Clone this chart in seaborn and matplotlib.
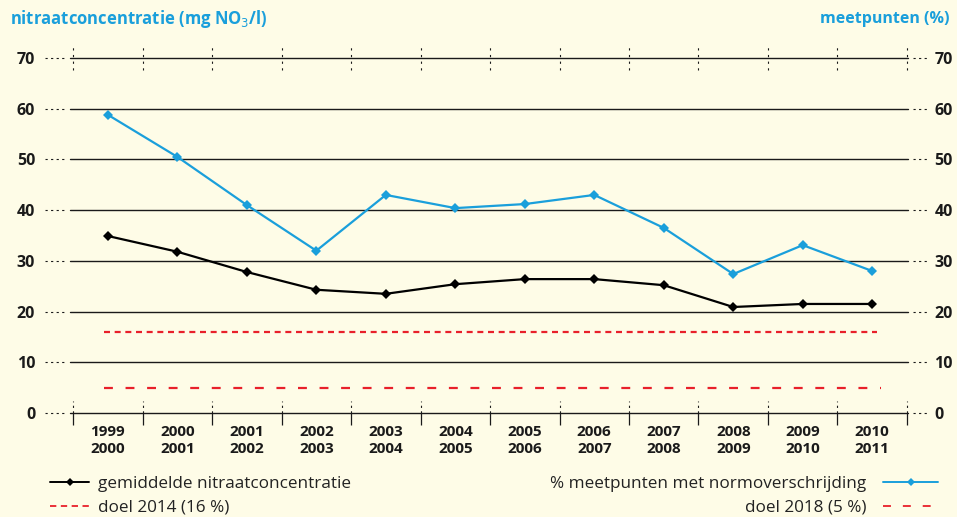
import numpy as np
import pandas as pd
import seaborn as sns
from matplotlib import pyplot as plt
from matplotlib.lines import Line2D

# data
PERIODS = ['1999\n2000', '2000\n2001', '2001\n2002', '2002\n2003', '2003\n2004', '2004\n2005',
           '2005\n2006', '2006\n2007', '2007\n2008', '2008\n2009', '2009\n2010', '2010\n2011']
NITRAAT = [34.9, 31.8, 27.8, 24.3, 23.5, 25.4, 26.4, 26.4, 25.2, 20.9, 21.5, 21.5]
MEETPUNTEN = [58.8, 50.5, 41.0, 32.0, 43.0, 40.4, 41.2, 43.0, 36.5, 27.4, 33.1, 28.0]
DOEL_2014 = 16
DOEL_2018 = 5
Y_TICKS = [0, 10, 20, 30, 40, 50, 60, 70]

BG = '#fefce7'
BLUE = '#1a9fdb'
RED = '#e8202a'
DARK = '#1a1a1a'

sns.set_theme(style='white')
plt.rcParams['font.family'] = ['Open Sans', 'DejaVu Sans']

df = pd.DataFrame({'x': np.arange(len(PERIODS)), 'nitraat': NITRAAT, 'meetpunten': MEETPUNTEN})

fig = plt.figure(figsize=(9.57, 5.17), dpi=100, facecolor=BG)
ax = fig.add_axes([70 / 957, 1 - 413 / 517, 838 / 957, 355 / 517])
ax.set_facecolor(BG)

# grid lines plus the dotted stubs next to the tick labels
for v in Y_TICKS:
    ax.axhline(v, color=DARK, lw=1.0, zorder=1, clip_on=False)
    ax.plot([-0.030, -0.003], [v, v], transform=ax.get_yaxis_transform(), clip_on=False,
            color=DARK, lw=0.8, dashes=(2, 3))
    ax.plot([1.006, 1.024], [v, v], transform=ax.get_yaxis_transform(), clip_on=False,
            color=DARK, lw=0.8, dashes=(2, 3))

# category boundary marks at top and bottom
bounds = np.arange(len(PERIODS) + 1) - 0.5
ax.vlines(bounds, 67.6, 72.4, color=DARK, lw=0.8, linestyles=(0, (2, 4)), clip_on=False)
ax.vlines(bounds, 0, 2.4, color=DARK, lw=0.8, linestyles=(0, (2, 3)), clip_on=False)
ax.vlines(bounds, -2.4, 0, color=DARK, lw=0.9, clip_on=False)

# target lines
ax.plot([-0.05, 11.07], [DOEL_2014, DOEL_2014], color=RED, lw=1.6, dashes=(2.7, 2.1), zorder=2)
ax.plot([-0.05, 11.12], [DOEL_2018, DOEL_2018], color=RED, lw=1.6, dashes=(4.0, 5.7), zorder=2)

sns.lineplot(data=df, x='x', y='meetpunten', ax=ax, color=BLUE, lw=1.6, marker='D',
             markersize=5, markeredgewidth=0, zorder=3)
sns.lineplot(data=df, x='x', y='nitraat', ax=ax, color='black', lw=1.6, marker='D',
             markersize=5, markeredgewidth=0, zorder=4)

ax.set_xlim(-0.545, 11.515)
ax.set_ylim(0, 70)
for s in ax.spines.values():
    s.set_visible(False)

ax.set_yticks(Y_TICKS)
ax.tick_params(axis='y', length=0, pad=25, labelsize=11.5, labelcolor=DARK)
for t in ax.get_yticklabels():
    t.set_fontweight('bold')

# right axis (meetpunten %) shares the same scale
ax2 = ax.twinx()
ax2.set_ylim(ax.get_ylim())
ax2.set_yticks(Y_TICKS)
ax2.tick_params(axis='y', length=0, pad=19, labelsize=11.5, labelcolor=DARK)
for t in ax2.get_yticklabels():
    t.set_fontweight('bold')
for s in ax2.spines.values():
    s.set_visible(False)

ax.set_xticks(df['x'])
ax.set_xticklabels(PERIODS, fontsize=11, fontweight='bold', color=DARK, linespacing=1.25)
ax.tick_params(axis='x', length=0, pad=9)
ax.set_xlabel('')
ax.set_ylabel('')

fig.text(10 / 957, 1 - 19 / 517, 'nitraatconcentratie (mg NO$_3$/l)', color=BLUE,
         fontsize=12, fontweight='bold', va='center', ha='left')
fig.text(950 / 957, 1 - 19 / 517, 'meetpunten (%)', color=BLUE,
         fontsize=11.5, fontweight='bold', va='center', ha='right')

# legends
h_nit = Line2D([], [], color='black', lw=1.4, marker='D', markersize=4, markeredgewidth=0)
h_2014 = Line2D([], [], color=RED, lw=1.3, dashes=(3.5, 2.5))
h_blue = Line2D([], [], color=BLUE, lw=1.4, marker='D', markersize=4, markeredgewidth=0)
h_2018 = Line2D([], [], color=RED, lw=1.3, dashes=(4.4, 6.6))

leg_kw = dict(frameon=False, fontsize=12.3, handlelength=2.3, handletextpad=0.5,
              labelspacing=0.45, labelcolor='#222222', borderaxespad=0, borderpad=0)
leg1 = fig.legend([h_nit, h_2014], ['gemiddelde nitraatconcentratie', 'doel 2014 (16 %)'],
                  loc='upper left', bbox_to_anchor=(50 / 957, 1 - 476 / 517), **leg_kw)
leg2 = fig.legend([h_blue, h_2018], ['% meetpunten met normoverschrijding', 'doel 2018 (5 %)'],
                  loc='upper right', bbox_to_anchor=(938 / 957, 1 - 476 / 517),
                  markerfirst=False, **dict(leg_kw, handlelength=3.2, handletextpad=1.0))
leg2._legend_box.align = 'right'

fig.savefig('out.png', dpi=100, facecolor=BG)
